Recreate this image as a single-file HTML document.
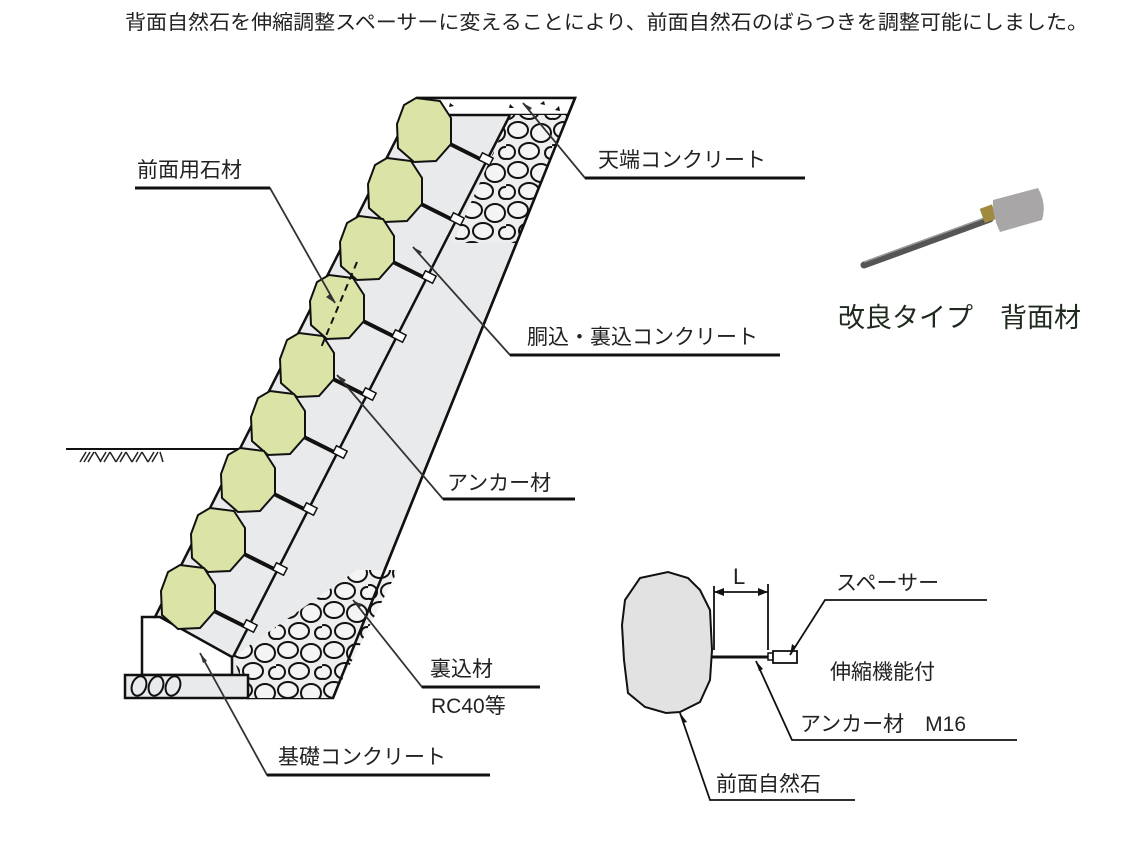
<!DOCTYPE html>
<html><head><meta charset="utf-8"><style>
html,body{margin:0;padding:0;background:#fff;}
svg{display:block;}
text{font-family:"Liberation Sans","Noto Sans CJK JP",sans-serif;fill:#222;}
</style></head><body>
<svg width="1125" height="856" viewBox="0 0 1125 856" xmlns="http://www.w3.org/2000/svg">
<defs>
<pattern id="rk" width="46" height="40" patternUnits="userSpaceOnUse">
<rect width="46" height="40" fill="#eeeeee"/>
<ellipse cx="12" cy="10" rx="10" ry="8" fill="#f4f4f4" stroke="#111" stroke-width="2"/>
<ellipse cx="35" cy="13" rx="10" ry="9" fill="#f4f4f4" stroke="#111" stroke-width="2"/>
<ellipse cx="23" cy="31" rx="10" ry="8" fill="#f4f4f4" stroke="#111" stroke-width="2"/>
<ellipse cx="2" cy="32" rx="7" ry="7" fill="#f4f4f4" stroke="#111" stroke-width="2"/>
<ellipse cx="45" cy="33" rx="6" ry="6" fill="#f4f4f4" stroke="#111" stroke-width="2"/>
</pattern>
<clipPath id="c1"><polygon points="510,115 568,115 517,243 453,243"/></clipPath>
<clipPath id="c2"><polygon points="357,570 398,570 333,698 248,698 233,657"/></clipPath>
<g id="s" stroke="#111">
<line x1="18" y1="10" x2="58" y2="30" stroke-width="4"/>
<rect x="56" y="25" width="12" height="8" fill="#fff" stroke-width="1.5" transform="rotate(27 62 29)"/>
<path d="M-8,-32 L16,-29 L27,-12 L27,14 L12,31 L-10,32 L-26,18 L-27,-6 L-20,-25Z" fill="#dbe4a6" stroke-width="2"/>
</g>
</defs>

<text x="125" y="29" font-size="20" textLength="963" lengthAdjust="spacingAndGlyphs">背面自然石を伸縮調整スペーサーに変えることにより、前面自然石のばらつきを調整可能にしました。</text>

<polygon points="417,98 575,98 333,698 248,698 232,675 232,657 160,617 155,617" fill="#e9eaeb" stroke="#111" stroke-width="2.5"/>
<polygon points="417,98 575,98 568,115 409,115" fill="#fff" stroke="#111" stroke-width="2.5"/>
<path d="M450,103 l4,3 l-5,1z M510,104 l4,4 l-5,0z M540,104 l4,-3 l1,4z M555,110 l4,-4 l1,5z" fill="#111"/>
<rect x="440" y="110" width="140" height="140" fill="url(#rk)" clip-path="url(#c1)"/>
<rect x="220" y="565" width="190" height="140" fill="url(#rk)" clip-path="url(#c2)"/>
<line x1="510" y1="115" x2="233" y2="657" stroke="#111" stroke-width="2.5"/>
<line x1="575" y1="98" x2="333" y2="698" stroke="#111" stroke-width="2.5"/>
<polyline points="155,617 142,617 142,675 232,675" fill="none" stroke="#111" stroke-width="2.5"/>
<rect x="125" y="675" width="123" height="23" fill="#e9eaeb" stroke="#111" stroke-width="2.5"/>
<ellipse cx="139" cy="686" rx="7" ry="10" fill="none" stroke="#111" stroke-width="2" transform="rotate(20 139 686)"/>
<ellipse cx="156" cy="686" rx="7" ry="10" fill="none" stroke="#111" stroke-width="2" transform="rotate(20 156 686)"/>
<ellipse cx="173" cy="686" rx="7" ry="10" fill="none" stroke="#111" stroke-width="2" transform="rotate(20 173 686)"/>
<line x1="66" y1="449" x2="240" y2="449" stroke="#111" stroke-width="2"/>
<path d="M80,462 l6,-10 M84,462 l6,-10 M88,462 l6,-10 M95,452 l6,10 M100,462 l6,-10 M104,462 l6,-10 M110,452 l6,10 M116,462 l6,-10 M120,462 l6,-10 M126,452 l6,10 M132,462 l6,-10 M136,462 l6,-10 M142,452 l6,10 M148,462 l6,-10 M152,462 l6,-10 M160,452 l3,10" stroke="#222" stroke-width="1.5"/>

<use href="#s" x="424" y="130"/>
<use href="#s" x="395" y="190"/>
<use href="#s" x="367" y="248"/>
<use href="#s" x="337" y="307"/>
<use href="#s" x="307" y="365"/>
<use href="#s" x="278" y="423"/>
<use href="#s" x="248" y="480"/>
<use href="#s" x="218" y="540"/>
<use href="#s" x="188" y="597"/>
<line x1="357" y1="262" x2="320" y2="350" stroke="#111" stroke-width="2" stroke-dasharray="7,5"/>

<g stroke="#333" stroke-width="1.8" fill="none">
<path d="M135,188 H270 L335,303"/>
<path d="M805,178 H585 L523,103"/>
<path d="M780,355 H510 L413,247"/>
<path d="M575,499 H443 L337,375"/>
<path d="M540,687 H422 L353,600"/>
<path d="M490,775 H267 L200,653"/>
</g>
<g stroke="#111" stroke-width="3">
<line x1="135" y1="188" x2="270" y2="188"/>
<line x1="585" y1="178" x2="805" y2="178"/>
<line x1="510" y1="355" x2="780" y2="355"/>
<line x1="443" y1="499" x2="575" y2="499"/>
<line x1="422" y1="687" x2="540" y2="687"/>
<line x1="267" y1="775" x2="490" y2="775"/>
</g>
<g fill="#333">
<path d="M335,303 l-9,-6 l4,-3z"/>
<path d="M523,103 l9,5 l-3,3z"/>
<path d="M413,247 l9,5 l-3,3z"/>
<path d="M337,375 l9,5 l-3,3z"/>
<path d="M353,600 l9,5 l-3,3z"/>
<path d="M200,653 l7,8 l-4,2z"/>
</g>
<g font-size="21">
<text x="137" y="177">前面用石材</text>
<text x="598" y="167">天端コンクリート</text>
<text x="527" y="344">胴込・裏込コンクリート</text>
<text x="447" y="490">アンカー材</text>
<text x="430" y="676">裏込材</text>
<text x="431" y="713">RC40等</text>
<text x="278" y="764">基礎コンクリート</text>
</g>

<line x1="864" y1="265" x2="990" y2="219" stroke="#555" stroke-width="7" stroke-linecap="round"/>
<line x1="864" y1="262" x2="990" y2="216" stroke="#9a9a9a" stroke-width="1.5"/>
<rect x="982" y="206" width="13" height="15" fill="#a08a40" transform="rotate(-20 989 214)"/>
<path d="M993,200 L1038,188 Q1047,204 1042,220 L1000,232 Q992,216 993,200Z" fill="#a8a6a6"/>
<text x="838" y="327" font-size="27" style="fill:#1f2a1f">改良タイプ　背面材</text>

<path d="M640,578 L668,572 L688,578 L700,590 L710,610 L712,650 L710,680 L700,702 L680,712 L666,713 L645,707 L628,693 L624,660 L622,625 L625,600Z" fill="#e2e2e2" stroke="#111" stroke-width="2"/>
<line x1="712" y1="657" x2="769" y2="657" stroke="#111" stroke-width="3"/>
<rect x="768" y="653" width="6" height="7" fill="#fff" stroke="#111" stroke-width="1.5"/>
<rect x="773" y="651" width="24" height="12" fill="#fff" stroke="#111" stroke-width="1.8"/>
<g stroke="#111" stroke-width="1.8">
<line x1="714" y1="586" x2="714" y2="650"/>
<line x1="768" y1="584" x2="768" y2="650"/>
<line x1="714" y1="592" x2="768" y2="592"/>
</g>
<path d="M714,592 l10,-4 v8z M768,592 l-10,-4 v8z" fill="#111"/>
<text x="733" y="584" font-size="22">L</text>
<g stroke="#111" stroke-width="1.8" fill="none">
<path d="M987,600 H825 L790,655"/>
<path d="M1017,740 H792 L756,661"/>
<path d="M855,800 H710 L680,713"/>
</g>
<path d="M790,655 l2,-11 l4,3z M756,661 l7,8 l-4,2z M680,713 l7,9 l-4,1z" fill="#111"/>
<g font-size="21">
<text x="836" y="590">スペーサー</text>
<text x="830" y="679">伸縮機能付</text>
<text x="800" y="731">アンカー材　M16</text>
<text x="716" y="791">前面自然石</text>
</g>
</svg>
</body></html>
